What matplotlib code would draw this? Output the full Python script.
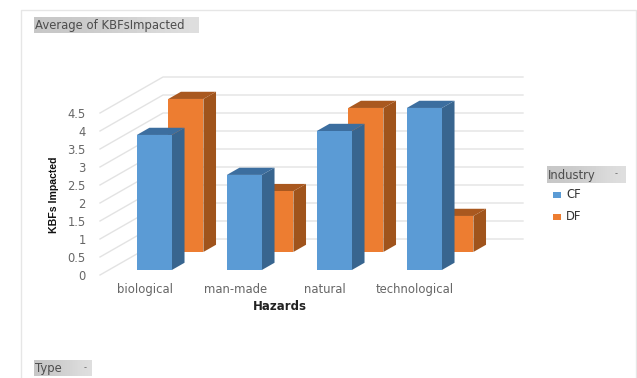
import numpy as np
import matplotlib
matplotlib.use("Agg")
import matplotlib.pyplot as plt
from matplotlib.patches import Polygon, Rectangle

plt.rcParams['font.family'] = ['DejaVu Sans']

hazards = ["biological", "man-made", "natural", "technological"]
cf_values = [3.75, 2.64, 3.86, 4.5]
df_values = [4.25, 1.69, 4.0, 1.0]
value_ticks = [0, 0.5, 1, 1.5, 2, 2.5, 3, 3.5, 4, 4.5]
value_tick_labels = ["0", "0.5", "1", "1.5", "2", "2.5", "3", "3.5", "4", "4.5"]

W, H = 637, 378
BAR_W = 0.39      # bar width in category units
DEPTH_X = 0.70    # horizontal shift of a full unit of depth, in category units
ROW_DEPTH = 0.20  # depth of a bar
TEXT = "#666666"
GRID = "#E3E3E3"


def px_axes(left, top, right, bottom, **kw):
    return fig.add_axes([left / W, 1 - bottom / H, (right - left) / W, (bottom - top) / H], **kw)


def project(x, v, d):
    return x + DEPTH_X * d, v + d


def draw_bar(ax, x, value, d, front, side, top):
    d2 = d + ROW_DEPTH
    x2 = x + BAR_W
    ax.add_patch(Polygon([project(x2, 0, d), project(x2, 0, d2), project(x2, value, d2), project(x2, value, d)],
                         fc=side, ec="none", zorder=3))
    ax.add_patch(Polygon([project(x, value, d), project(x2, value, d), project(x2, value, d2), project(x, value, d2)],
                         fc=top, ec="none", zorder=3))
    ax.add_patch(Polygon([project(x, 0, d), project(x2, 0, d), project(x2, value, d), project(x, value, d)],
                         fc=front, ec="none", zorder=3))


def tag(left, top, right, bottom, label, size, marker=False):
    a = px_axes(left, top, right, bottom)
    a.imshow(np.array([[0.78, 0.80, 0.83, 0.87]]), cmap="gray", vmin=0, vmax=1, aspect="auto",
             extent=(0, 1, 0, 1), interpolation="bicubic")
    a.set_axis_off()
    a.text(0.8 / (right - left), 0.47, label, transform=a.transAxes, ha="left", va="center",
           fontsize=size, color="#4d4d4d")
    if marker:
        a.text(0.88, 0.55, "-", transform=a.transAxes, ha="center", va="center", fontsize=6, color="#666666")


fig = plt.figure(figsize=(W / 100, H / 100), dpi=100, facecolor="white")

# Thin chart-area frame
frame = fig.add_axes([0, 0, 1, 1], zorder=0)
frame.set_xlim(0, W)
frame.set_ylim(H, 0)
frame.set_axis_off()
frame.plot([20.5, 20.5, 636, 636], [H, 9.5, 9.5, H], color="#E6E6E6", lw=1)

# Main plotting axes; the left edge and zero line sit on the front of the floor
ax = px_axes(90, 50, 530, 275)
ax.set_xlim((90 - 128) / 90, (530 - 128) / 90)
ax.set_ylim(0, 225 / 36)
ax.patch.set_alpha(0)
for s in ax.spines.values():
    s.set_visible(False)

wall_left = (100 - 128) / 90
wall_right = (523 - 128) / 90 - DEPTH_X
for v in value_ticks:
    x0, y0 = project(wall_left, v, 0)
    x1, y1 = project(wall_left, v, 1)
    x2, y2 = project(wall_right, v, 1)
    ax.plot([x0, x1, x2], [y0, y1, y2], color=GRID, lw=1, zorder=1, clip_on=False)

positions = np.arange(len(hazards))
for x, v in zip(positions, df_values):
    draw_bar(ax, x, v, 0.64, "#ED7D31", "#A0541C", "#A9581F")
for x, v in zip(positions, cf_values):
    draw_bar(ax, x, v, 0.14, "#5B9BD5", "#38658F", "#3C6E9F")

ax.set_yticks(value_ticks, value_tick_labels)
ax.set_xticks(positions + 0.19, hazards)
ax.tick_params(axis="y", length=0, pad=3, labelsize=8.3, labelcolor=TEXT)
ax.tick_params(axis="x", length=0, pad=6, labelsize=8.4, labelcolor=TEXT)

frame.text(280, 307, "Hazards", ha="center", va="center", fontsize=8.5, fontweight="bold", color="#222222")
frame.text(54, 195, "KBFs Impacted", rotation=90, ha="center", va="center", fontsize=7.6,
           fontweight="bold", color="#111111", family=["Liberation Sans", "DejaVu Sans"])

tag(34, 17, 198, 33, "Average of KBFsImpacted", 8.4)
tag(34, 360, 92, 376, "Type", 8.4, marker=True)
tag(547, 166, 626, 183, "Industry", 8.4, marker=True)

# Legend entries
frame.add_patch(Rectangle((553, 192), 8, 6, fc="#5B9BD5", ec="none"))
frame.add_patch(Rectangle((553, 214), 8, 6, fc="#ED7D31", ec="none"))
frame.text(566, 194.5, "CF", va="center", ha="left", fontsize=8.4, color="#333333")
frame.text(566, 216.5, "DF", va="center", ha="left", fontsize=8.4, color="#333333")

fig.savefig("out.png", dpi=100, facecolor="white")
